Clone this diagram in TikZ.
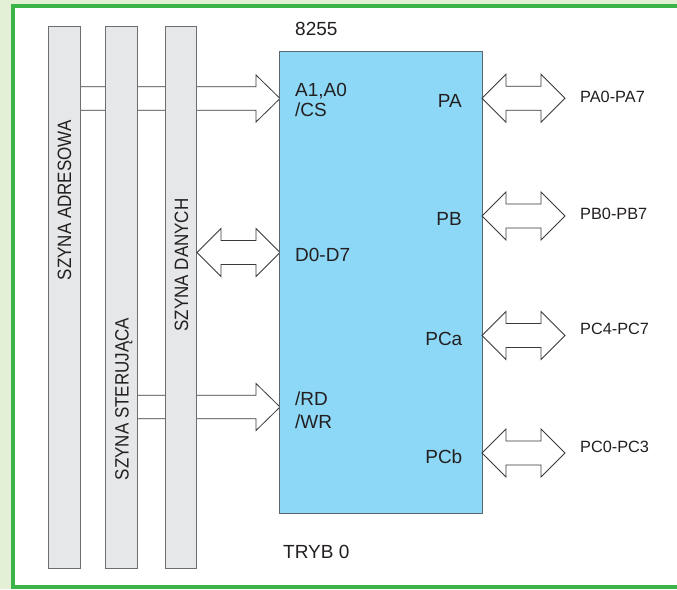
\documentclass[tikz,border=0pt]{standalone}
\usepackage{fontspec}
\usepackage{graphicx}
\setmainfont{Liberation Sans}
\definecolor{bgout}{HTML}{E3F0D6}
\definecolor{framegreen}{HTML}{3BB54A}
\definecolor{busfill}{HTML}{E6E7E8}
\definecolor{busline}{HTML}{6D6E71}
\definecolor{chipfill}{HTML}{8DD8F7}
\definecolor{chipline}{HTML}{5A6770}
\definecolor{arrline}{HTML}{3A3A3A}
\definecolor{txt}{HTML}{231F20}
\newcommand{\DblArrow}[3]{%
  \draw[blockarrow] (#1,#3) -- (#1+24,#3-24) -- (#1+24,#3-12) -- (#2-24,#3-12) -- (#2-24,#3-24) -- (#2,#3) -- (#2-24,#3+24) -- (#2-24,#3+12) -- (#1+24,#3+12) -- (#1+24,#3+24) -- cycle;}
\newcommand{\SglArrow}[3]{%
  \draw[blockarrow] (#1,#3-11.7) -- (#2-24,#3-11.7) -- (#2-24,#3-23.5) -- (#2,#3) -- (#2-24,#3+23.5) -- (#2-24,#3+11.7) -- (#1,#3+11.7) -- cycle;}
\newcommand{\NarrowText}[1]{\scalebox{0.88}[1]{#1}}
\begin{document}
\begin{tikzpicture}[x=1pt,y=-1pt,
  bus/.style={draw=busline, fill=busfill, line width=0.9pt, rectangle, inner sep=0pt},
  chipbox/.style={draw=chipline, fill=chipfill, line width=1pt, rectangle, inner sep=0pt},
  blockarrow/.style={draw=arrline, fill=white, line width=0.8pt, line join=miter},
  lbl/.style={inner sep=0pt, text=txt, font=\fontsize{19}{19}\selectfont},
  extlbl/.style={inner sep=0pt, text=txt, font=\fontsize{16.3}{16.3}\selectfont, anchor=base west},
  buslbl/.style={inner sep=0pt, text=txt, font=\fontsize{19.3}{19.3}\selectfont, rotate=90, anchor=base}]
\useasboundingbox (0,0) rectangle (677,589);
\fill[bgout] (0,0) rectangle (677,589);
\begin{scope}
  \clip (0,0) rectangle (677,589);
  \draw[framegreen, line width=4pt, fill=white] (13,6.3) rectangle (679,587);
\end{scope}
% arrows that run behind the buses
\SglArrow{79}{280}{98.5}
\SglArrow{136}{280}{407}
% buses
\node[bus, minimum width=31.7pt, minimum height=542pt] (adr) at (64.1,297.8) {};
\node[bus, minimum width=32pt, minimum height=542pt] (ster) at (121.7,297.8) {};
\node[bus, minimum width=31pt, minimum height=542pt] (dan) at (181.2,297.8) {};
\node[buslbl] (ladr) at (71,200.3) {\NarrowText{SZYNA ADRESOWA}};
\node[buslbl] (lster) at (128.6,399) {\NarrowText{SZYNA STERUJĄCA}};
\node[buslbl] (ldan) at (188.2,265) {\NarrowText{SZYNA DANYCH}};
% data bus arrow
\DblArrow{197}{280}{252.5}
% chip
\node[chipbox, minimum width=202.5pt, minimum height=462pt] (chip) at (380.75,282) {};
% port arrows
\DblArrow{482}{565}{98.2}
\DblArrow{482}{565}{216}
\DblArrow{482}{565}{335.5}
\DblArrow{482}{565}{453}
% texts
\node[lbl, anchor=base west] (t8255) at (295,35.5) {8255};
\node[lbl, anchor=base west] (ta) at (295,96.5) {A1,A0};
\node[lbl, anchor=base west] (tcs) at (295,116.8) {/CS};
\node[lbl, anchor=base east] (tpa) at (462,107.8) {PA};
\node[lbl, anchor=base east] (tpb) at (462,225.8) {PB};
\node[lbl, anchor=base west] (td) at (295,261.3) {D0-D7};
\node[lbl, anchor=base east] (tpca) at (462.5,345) {PCa};
\node[lbl, anchor=base west] (trd) at (295,405.5) {/RD};
\node[lbl, anchor=base west] (twr) at (295,428.5) {/WR};
\node[lbl, anchor=base east] (tpcb) at (462.5,463) {PCb};
\node[lbl, anchor=base west] (ttryb) at (283,558.5) {TRYB 0};
\node[extlbl] (epa) at (580,102) {PA0-PA7};
\node[extlbl] (epb) at (580,219) {PB0-PB7};
\node[extlbl] (epca) at (580,334) {PC4-PC7};
\node[extlbl] (epcb) at (580,452.5) {PC0-PC3};
\end{tikzpicture}
\end{document}
